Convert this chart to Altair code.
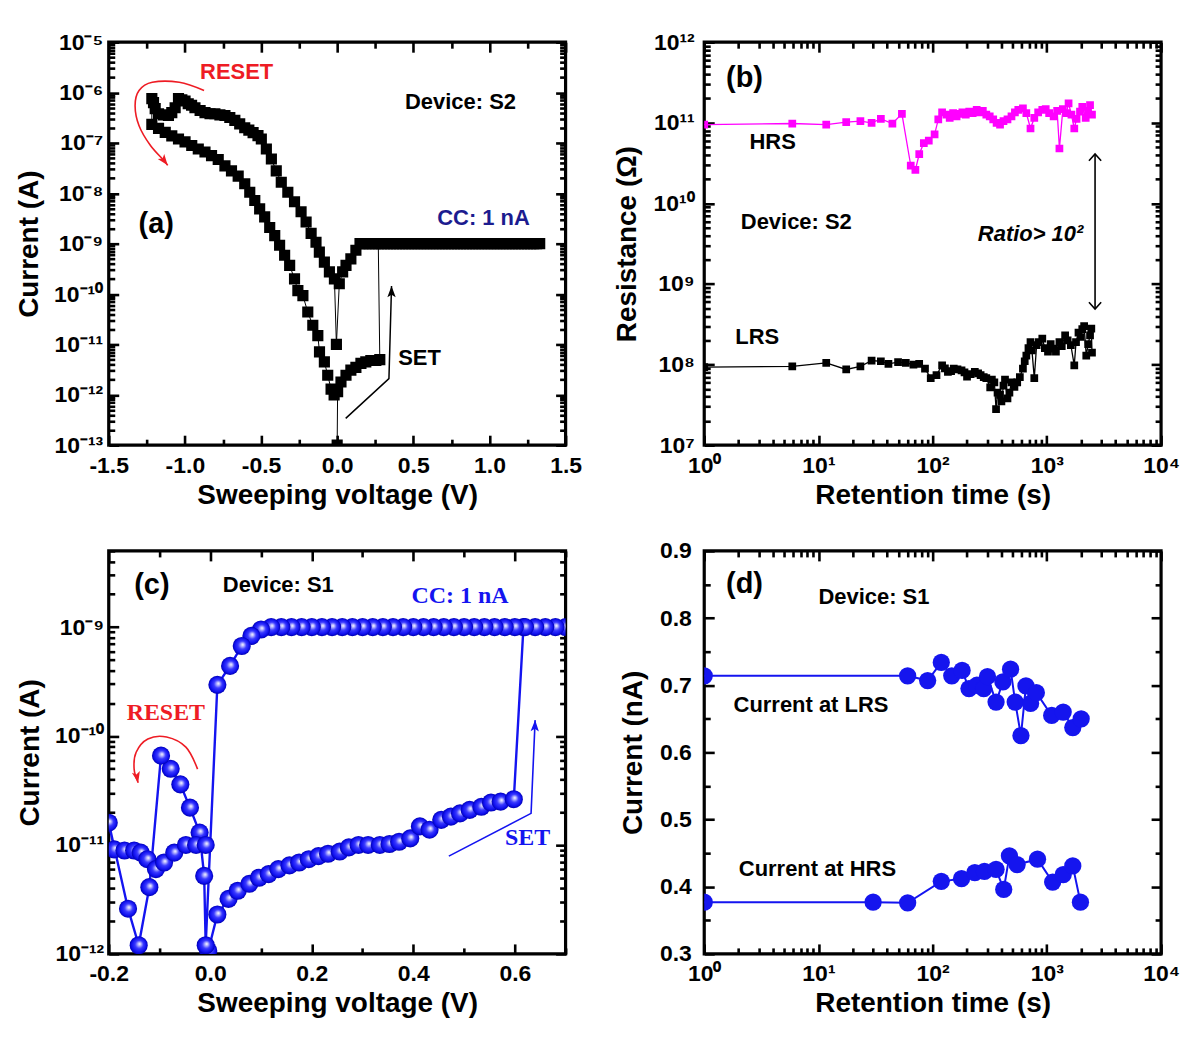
import altair as alt
import pandas as pd

SANS = "Liberation Sans"
SERIF = "Liberation Serif"
SUP = str.maketrans("-0123456789", "\u207b\u2070\u00b9\u00b2\u00b3\u2074\u2075\u2076\u2077\u2078\u2079")

BLUE = "#1414f0"
RED = "#ee1c24"
MAGENTA = "#ff00ff"
NAVY = "#1c1c8f"

# ---------------- panel (a): I-V sweep, device S2 ----------------
A_HRS_POS_V = [0.0, 0.003, 0.025, 0.058, 0.09, 0.123, 0.156, 0.188, 0.221, 0.254, 0.28]
A_HRS_POS_I = [1.0e-13, 1.15e-12, 1.8e-12, 2.45e-12, 3.1e-12, 3.5e-12, 4.2e-12, 4.5e-12, 4.8e-12, 4.8e-12, 5.0e-12]
A_CC_V = [0.27, 0.29, 0.31, 0.33, 0.35, 0.37, 0.39, 0.41, 0.43, 0.45, 0.47, 0.49, 0.51, 0.53, 0.55,
          0.57, 0.59, 0.61, 0.63, 0.65, 0.67, 0.69, 0.71, 0.73, 0.75, 0.77, 0.79, 0.81, 0.83, 0.85,
          0.87, 0.89, 0.91, 0.93, 0.95, 0.97, 0.99, 1.01, 1.03, 1.05, 1.07, 1.09, 1.11, 1.13, 1.15,
          1.17, 1.19, 1.21, 1.23, 1.25, 1.27, 1.29, 1.31, 1.33]
A_CC_I = [1.0e-9] * len(A_CC_V)
A_LRS_RET_V = [0.25, 0.23, 0.21, 0.19, 0.17, 0.15, 0.123, 0.09, 0.058, 0.036, 0.014, -0.005]
A_LRS_RET_I = [1e-9, 1e-9, 1e-9, 1e-9, 1e-9, 1e-9, 7.4e-10, 5.0e-10, 3.7e-10, 2.75e-10, 1.6e-10, 1.0e-11]
A_LRS_NEG_V = [-0.018, -0.051, -0.084, -0.117, -0.139, -0.171, -0.204, -0.237, -0.28, -0.324,
               -0.367, -0.40, -0.432, -0.465, -0.498, -0.52, -0.552, -0.58, -0.607, -0.64,
               -0.672, -0.705, -0.737, -0.77, -0.803, -0.835, -0.868, -0.90, -0.934, -0.956,
               -0.978, -0.999, -1.02, -1.042, -1.064, -1.086, -1.108, -1.14, -1.173, -1.195,
               -1.206, -1.217]
A_LRS_NEG_I = [2.0e-10, 2.75e-10, 4.3e-10, 6.8e-10, 1.07e-9, 1.6e-9, 2.7e-9, 4.3e-9, 6.8e-9, 1.05e-8,
               1.66e-8, 2.8e-8, 4.8e-8, 7.6e-8, 1.2e-7, 1.4e-7, 1.6e-7, 1.8e-7, 2.0e-7, 2.4e-7,
               2.8e-7, 3.2e-7, 3.5e-7, 3.6e-7, 3.8e-7, 3.8e-7, 4.0e-7, 4.4e-7, 5.0e-7, 5.6e-7,
               6.0e-7, 6.8e-7, 7.2e-7, 7.6e-7, 5.0e-7, 4.0e-7, 3.5e-7, 3.6e-7, 3.8e-7, 4.8e-7,
               6.3e-7, 7.6e-7]
A_HRS_NEG_V = [-1.217, -1.173, -1.129, -1.086, -1.042, -0.999, -0.955, -0.912, -0.868, -0.825,
               -0.781, -0.737, -0.694, -0.65, -0.607, -0.574, -0.541, -0.509, -0.476, -0.443,
               -0.41, -0.378, -0.345, -0.312, -0.28, -0.258, -0.225, -0.193, -0.16, -0.127,
               -0.116, -0.084, -0.062, -0.04, -0.02]
A_HRS_NEG_I = [2.34e-7, 1.95e-7, 1.62e-7, 1.38e-7, 1.20e-7, 1.05e-7, 8.9e-8, 7.6e-8, 6.6e-8, 5.6e-8,
               4.7e-8, 3.5e-8, 2.8e-8, 2.2e-8, 1.55e-8, 1.05e-8, 7.2e-9, 4.9e-9, 3.4e-9, 2.1e-9,
               1.45e-9, 9.3e-10, 5.9e-10, 3.7e-10, 2.0e-10, 1.17e-10, 9.3e-11, 4.4e-11, 2.4e-11, 1.5e-11,
               7.1e-12, 4.5e-12, 2.45e-12, 1.3e-12, 1.0e-12]
A_RESET_ARC_V = [-0.874, -1.037, -1.214, -1.301, -1.327, -1.301, -1.226, -1.138, -1.113]
A_RESET_ARC_I = [1.1e-6, 1.6e-6, 1.6e-6, 1.1e-6, 5.5e-7, 2.2e-7, 8.9e-8, 4.5e-8, 3.6e-8]
A_SET_ARROW_V = [0.056, 0.34, 0.357]
A_SET_ARROW_I = [3.4e-13, 2.1e-12, 1.45e-10]

# ---------------- panel (b): retention, device S2 ----------------
B_HRS_T = [1.0, 5.9, 11.7, 17.5, 23.3, 29.2, 35.2, 44.4, 53.8, 64.3, 70.6, 76.3, 83.7, 92.5, 104, 112, 121,
           132, 141, 151, 162, 172, 182, 195, 209, 224, 243, 257, 275, 295, 316, 339, 363, 389, 417, 452, 490,
           525, 562, 617, 661, 719, 776, 839, 912, 977, 1047, 1146, 1230, 1288, 1380, 1479, 1549, 1641, 1738,
           1820, 1950, 2042, 2188, 2291, 2388, 2483]
B_HRS_R = [9.5e10, 9.8e10, 9.5e10, 1.02e11, 1.05e11, 1.0e11, 1.12e11, 9.8e10, 1.29e11, 2.95e10, 2.6e10,
           4.1e10, 5.6e10, 6.0e10, 7.2e10, 1.1e11, 1.35e11,
           1.26e11, 1.15e11, 1.32e11, 1.20e11, 1.29e11, 1.35e11, 1.26e11, 1.38e11, 1.32e11, 1.45e11,
           1.35e11, 1.41e11, 1.26e11, 1.20e11, 1.10e11, 1.00e11, 9.5e10, 1.05e11, 1.10e11, 1.20e11,
           1.35e11, 1.45e11, 1.51e11, 1.32e11, 8.5e10, 1.15e11, 1.35e11, 1.45e11, 1.48e11, 1.32e11,
           1.20e11, 1.41e11, 4.8e10, 1.48e11, 1.32e11, 1.74e11, 1.26e11, 8.5e10, 1.12e11, 1.38e11,
           1.58e11, 1.15e11, 1.41e11, 1.66e11, 1.26e11]
B_LRS_T = [1.0, 5.9, 11.7, 17.5, 23.3, 29.2, 35.2, 41, 49.8, 58.2, 67.9, 76.2, 85.7, 96.2, 108, 121, 128,
           136, 145, 153, 165, 179, 190, 200, 215, 234, 250, 263, 280, 295, 319, 330, 347, 359, 370, 389,
           400, 417, 430, 452, 470, 490, 520, 550, 580, 617, 640, 661, 690, 719, 740, 776, 813, 850, 912,
           960, 1023, 1080, 1148, 1200, 1288, 1350, 1445, 1520, 1622, 1738, 1800, 1892, 1980, 2042, 2120,
           2213, 2300, 2388, 2450, 2483]
B_LRS_R = [9.3e7, 9.5e7, 1.05e8, 8.7e7, 9.5e7, 1.12e8, 1.10e8, 1.02e8, 1.07e8, 1.05e8, 1.0e8, 1.02e8,
           8.9e7, 6.8e7, 7.4e7, 9.8e7, 9.0e7, 8.1e7, 8.3e7, 8.9e7, 8.7e7, 8.5e7, 8.0e7, 7.1e7, 7.6e7,
           8.1e7, 7.8e7, 7.4e7, 7.0e7, 6.8e7, 5.2e7, 6.5e7, 6.0e7, 2.8e7, 4.5e7, 4.2e7, 3.5e7, 5.5e7,
           6.5e7, 3.8e7, 4.5e7, 6.0e7, 5.3e7, 6.0e7, 7.0e7, 8.9e7, 1.1e8, 1.29e8, 1.6e8, 1.9e8, 1.5e8,
           6.8e7, 1.74e8, 1.9e8, 2.1e8, 1.6e8, 1.45e8, 1.8e8, 1.58e8, 1.45e8, 1.9e8, 1.7e8, 2.3e8,
           2.0e8, 1.74e8, 9.8e7, 1.9e8, 2.5e8, 2.2e8, 2.75e8, 3.0e8, 1.29e8, 1.8e8, 2.3e8, 2.8e8, 1.41e8]
B_RATIO_T = [2642, 2642]
B_RATIO_R = [4.1e10, 4.9e8]

# ---------------- panel (c): I-V sweep, device S1 ----------------
C_HRS_POS_V = [-0.004, 0.014, 0.036, 0.054, 0.077, 0.096, 0.115, 0.134, 0.156, 0.175, 0.194, 0.213,
               0.232, 0.255, 0.273, 0.292, 0.311, 0.334, 0.353, 0.372, 0.394, 0.413, 0.432, 0.455,
               0.474, 0.492, 0.511, 0.534, 0.553, 0.572, 0.598]
C_HRS_POS_I = [1.07e-12, 2.3e-12, 3.2e-12, 3.8e-12, 4.4e-12, 5.0e-12, 5.4e-12, 6.0e-12, 6.5e-12, 6.9e-12,
               7.4e-12, 7.9e-12, 8.3e-12, 8.7e-12, 9.5e-12, 1.0e-11, 1.0e-11, 1.0e-11, 1.02e-11, 1.07e-11,
               1.15e-11, 1.48e-11, 1.38e-11, 1.7e-11, 1.82e-11, 1.95e-11, 2.1e-11, 2.24e-11, 2.45e-11,
               2.5e-11, 2.63e-11]
C_CC_V = [0.617, 0.70, 0.68, 0.66, 0.64, 0.62, 0.60, 0.58, 0.56, 0.54, 0.52, 0.50, 0.48, 0.46, 0.44,
          0.42, 0.40, 0.38, 0.36, 0.34, 0.32, 0.30, 0.28, 0.26, 0.24, 0.22, 0.20, 0.18, 0.16, 0.14, 0.12]
C_CC_I = [1.0e-9] * len(C_CC_V)
C_LRS_RET_V = [0.1, 0.081, 0.062, 0.039, 0.014]
C_LRS_RET_I = [9.5e-10, 8.3e-10, 6.7e-10, 4.4e-10, 2.95e-10]
C_NEG_V = [-0.009, -0.012, -0.021, -0.04, -0.059, -0.078, -0.097, -0.12, -0.141, -0.162, -0.2,
           -0.189, -0.169, -0.15, -0.137, -0.124, -0.107, -0.091, -0.071, -0.048, -0.028, -0.009]
C_NEG_I = [1.2e-12, 5.2e-12, 1.3e-11, 2.2e-11, 3.6e-11, 5.0e-11, 6.6e-11, 4.1e-12, 1.2e-12, 2.6e-12,
           1.6e-11, 9.1e-12, 8.9e-12, 8.9e-12, 8.5e-12, 7.4e-12, 6.0e-12, 6.9e-12, 8.5e-12, 1.0e-11,
           1.0e-11, 1.0e-11]
C_RESET_ARC_V = [-0.025, -0.048, -0.086, -0.123, -0.146, -0.150, -0.142]
C_RESET_ARC_I = [4.97e-11, 7.9e-11, 9.8e-11, 9.4e-11, 7.1e-11, 4.97e-11, 3.72e-11]
C_SET_ARROW_V = [0.47, 0.632, 0.64]
C_SET_ARROW_I = [7.9e-12, 1.95e-11, 1.4e-10]

# ---------------- panel (d): retention, device S1 ----------------
D_LRS_T = [1, 60.4, 90.4, 119, 147, 181, 208, 244, 280, 302, 359, 412, 481, 528, 593, 656, 720, 809,
           1102, 1390, 1686, 1997]
D_LRS_I = [0.714, 0.714, 0.707, 0.734, 0.714, 0.722, 0.695, 0.700, 0.695, 0.713, 0.675, 0.705, 0.724,
           0.675, 0.625, 0.699, 0.673, 0.689, 0.655, 0.660, 0.637, 0.650]
D_HRS_T = [1, 30.1, 60.4, 119, 179, 234, 284, 359, 419, 470, 549, 828, 1124, 1390, 1686, 1968]
D_HRS_I = [0.377, 0.377, 0.376, 0.408, 0.412, 0.421, 0.423, 0.426, 0.396, 0.446, 0.433, 0.441, 0.407,
           0.418, 0.431, 0.377]

# ---------------- axis tick definitions ----------------
A_X_MAJ = [-1.5, -1.0, -0.5, 0.0, 0.5, 1.0, 1.5]
A_X_MIN = [-1.25, -0.75, -0.25, 0.25, 0.75, 1.25]
A_Y_EXP = [-13, -12, -11, -10, -9, -8, -7, -6, -5]
B_X_EXP = [0, 1, 2, 3, 4]
B_Y_EXP = [7, 8, 9, 10, 11, 12]
C_X_MAJ = [-0.2, 0.0, 0.2, 0.4, 0.6]
C_X_MIN = [-0.1, 0.1, 0.3, 0.5, 0.7]
C_Y_EXP = [-12, -11, -10, -9]
D_Y_MAJ = [0.3, 0.4, 0.5, 0.6, 0.7, 0.8, 0.9]
D_Y_MIN = [0.35, 0.45, 0.55, 0.65, 0.75, 0.85]

PW, PH = 458, 404


def decades(exps):
    return [10.0 ** e for e in exps]


def log_minor(exps, hi):
    out = []
    for e in exps:
        for k in range(2, 10):
            v = k * 10.0 ** e
            if v <= hi * 1.0001:
                out.append(v)
    return out


def pow10_expr(exps):
    expr = "''"
    for e in exps:
        expr = f"round(log(datum.value)/LN10) == {e} ? '10{str(e).translate(SUP)}' : ({expr})"
    return expr


DEC_EXPR = "replace(format(datum.value, '.1f'), '\u2212', '-')"


def mk_axis(orient, vals, size, labels=False, title=None, expr=None, pad=6, tpad=6):
    kw = dict(orient=orient, values=vals, tickSize=size, offset=-size, labels=labels,
              domain=False, grid=False, tickColor="black", tickWidth=2.6, title=title)
    if labels:
        kw.update(labelExpr=expr, labelPadding=pad, labelFlush=False, labelOverlap=False)
    if title is not None:
        kw.update(titlePadding=tpad)
    return alt.Axis(**kw)


def frame_layers(xdom, ydom, xs, ys, xmaj, xmin, ymaj, ymin, xtitle, ytitle, xexpr, yexpr,
                 xpad, ypad, ytpad):
    df = pd.DataFrame({"x": xdom, "y": ydom})

    def carrier(xa, ya):
        return alt.Chart(df).mark_point(opacity=0).encode(
            x=alt.X("x:Q", scale=xs, axis=xa), y=alt.Y("y:Q", scale=ys, axis=ya))

    return [
        carrier(mk_axis("bottom", xmaj, 10, True, xtitle, xexpr, xpad, 4),
                mk_axis("left", ymaj, 10, True, ytitle, yexpr, ypad, ytpad)),
        carrier(mk_axis("bottom", xmin, 6), mk_axis("left", ymin, 6)),
        carrier(mk_axis("top", xmaj, 10), mk_axis("right", ymaj, 10)),
        carrier(mk_axis("top", xmin, 6), mk_axis("right", ymin, 6)),
    ]


def enc(xs, ys):
    return dict(x=alt.X("x:Q", scale=xs, axis=None), y=alt.Y("y:Q", scale=ys, axis=None))


def text(xs, ys, x, y, t, size=22, color="black", font=SANS, style="normal"):
    df = pd.DataFrame({"x": [x], "y": [y], "t": [t]})
    return alt.Chart(df).mark_text(font=font, fontSize=size, fontWeight="bold", fontStyle=style,
                                   color=color, align="center", baseline="middle").encode(
        text="t:N", **enc(xs, ys))


def path_df(xv, yv):
    return pd.DataFrame({"x": xv, "y": yv, "i": list(range(len(xv)))})


ARROW = "M0,0L-0.55,1.5L0,1.15L0.55,1.5Z"
CHEV_UP = "M-1,1.1L0,0L1,1.1"
CHEV_DN = "M-1,-1.1L0,0L1,-1.1"


def arrow_head(xs, ys, x, y, color, angle, size=256):
    df = pd.DataFrame({"x": [x], "y": [y]})
    return alt.Chart(df).mark_point(shape=ARROW, filled=True, size=size, color=color, opacity=1,
                                    angle=angle, strokeWidth=0.5).encode(**enc(xs, ys))


def chevron(xs, ys, x, y, shape):
    df = pd.DataFrame({"x": [x], "y": [y]})
    return alt.Chart(df).mark_point(shape=shape, filled=False, size=150, color="black", opacity=1,
                                    strokeWidth=1.6).encode(**enc(xs, ys))


# ================= panel (a) =================
xa = alt.Scale(type="linear", domain=[-1.5, 1.5], nice=False, zero=False)
ya = alt.Scale(type="log", domain=[1e-13, 1e-5], nice=False)
a_v = A_HRS_POS_V + A_CC_V + A_LRS_RET_V + A_LRS_NEG_V + A_HRS_NEG_V
a_i = A_HRS_POS_I + A_CC_I + A_LRS_RET_I + A_LRS_NEG_I + A_HRS_NEG_I
df_a = path_df(a_v, a_i)
pa_layers = frame_layers([-1.5, 1.5], [1e-13, 1e-5], xa, ya, A_X_MAJ, A_X_MIN,
                         decades(A_Y_EXP), log_minor(A_Y_EXP[:-1], 1e-5),
                         "Sweeping voltage (V)", "Current (A)", DEC_EXPR, pow10_expr(A_Y_EXP), 9, 6, 10)
pa_layers += [
    alt.Chart(df_a).mark_line(color="black", strokeWidth=1, clip=True).encode(order="i:Q", **enc(xa, ya)),
    alt.Chart(df_a).mark_square(color="black", size=125, opacity=1, clip=True).encode(**enc(xa, ya)),
    alt.Chart(path_df(A_RESET_ARC_V, A_RESET_ARC_I)).mark_line(color=RED, strokeWidth=1.6,
                                                              interpolate="cardinal").encode(order="i:Q", **enc(xa, ya)),
    arrow_head(xa, ya, A_RESET_ARC_V[-1], A_RESET_ARC_I[-1], RED, 143, 220),
    alt.Chart(path_df(A_SET_ARROW_V, A_SET_ARROW_I)).mark_line(color="black", strokeWidth=1.5).encode(
        order="i:Q", **enc(xa, ya)),
    arrow_head(xa, ya, A_SET_ARROW_V[-1], A_SET_ARROW_I[-1], "black", 0, 230),
    text(xa, ya, -0.66, 2.55e-6, "RESET", 22, RED),
    text(xa, ya, 0.81, 6.5e-7, "Device: S2", 22),
    text(xa, ya, -1.188, 2.5e-9, "(a)", 29),
    text(xa, ya, 0.961, 3.2e-9, "CC: 1 nA", 22, NAVY),
    text(xa, ya, 0.541, 5.4e-12, "SET", 22),
]
pa = alt.layer(*pa_layers).resolve_axis(x="independent", y="independent").properties(width=PW, height=PH)

# ================= panel (b) =================
xb = alt.Scale(type="log", domain=[1, 1e4], nice=False)
yb = alt.Scale(type="log", domain=[1e7, 1e12], nice=False)
pb_layers = frame_layers([1, 1e4], [1e7, 1e12], xb, yb, decades(B_X_EXP), log_minor(B_X_EXP[:-1], 1e4),
                         decades(B_Y_EXP), log_minor(B_Y_EXP[:-1], 1e12),
                         "Retention time (s)", "Resistance (\u03a9)", pow10_expr(B_X_EXP), pow10_expr(B_Y_EXP),
                         9, 10, 12)
df_bh = path_df(B_HRS_T, B_HRS_R)
df_bl = path_df(B_LRS_T, B_LRS_R)
pb_layers += [
    alt.Chart(df_bh).mark_line(color=MAGENTA, strokeWidth=1.3, clip=True).encode(order="i:Q", **enc(xb, yb)),
    alt.Chart(df_bh).mark_square(color=MAGENTA, size=60, opacity=1, clip=True).encode(**enc(xb, yb)),
    alt.Chart(df_bl).mark_line(color="black", strokeWidth=1.3, clip=True).encode(order="i:Q", **enc(xb, yb)),
    alt.Chart(df_bl).mark_square(color="black", size=60, opacity=1, clip=True).encode(**enc(xb, yb)),
    alt.Chart(path_df(B_RATIO_T, B_RATIO_R)).mark_line(color="black", strokeWidth=1.6).encode(
        order="i:Q", **enc(xb, yb)),
    chevron(xb, yb, B_RATIO_T[0], B_RATIO_R[0], CHEV_UP),
    chevron(xb, yb, B_RATIO_T[1], B_RATIO_R[1], CHEV_DN),
    text(xb, yb, 2.25, 3.6e11, "(b)", 29),
    text(xb, yb, 3.97, 5.7e10, "HRS", 22),
    text(xb, yb, 6.4, 5.8e9, "Device: S2", 22),
    text(xb, yb, 720, 4.2e9, "Ratio> 10\u00b2", 22, style="italic"),
    text(xb, yb, 2.91, 2.2e8, "LRS", 22),
]
pb = alt.layer(*pb_layers).resolve_axis(x="independent", y="independent").properties(width=PW, height=PH)

# ================= panel (c) =================
xc = alt.Scale(type="linear", domain=[-0.2, 0.7], nice=False, zero=False)
yc = alt.Scale(type="log", domain=[1e-12, 5e-9], nice=False)
c_v = C_HRS_POS_V + C_CC_V + C_LRS_RET_V + C_NEG_V
c_i = C_HRS_POS_I + C_CC_I + C_LRS_RET_I + C_NEG_I
df_c = path_df(c_v, c_i)
SPHERE = alt.RadialGradient(
    gradient="radial",
    stops=[alt.GradientStop(color="#ffffff", offset=0.0),
           alt.GradientStop(color="#b4b4ff", offset=0.18),
           alt.GradientStop(color="#3a3aff", offset=0.45),
           alt.GradientStop(color="#1010f0", offset=0.8),
           alt.GradientStop(color="#0000b0", offset=1.0)],
    x1=0.56, y1=0.42, r1=0.0, x2=0.5, y2=0.5, r2=0.5)
pc_layers = frame_layers([-0.2, 0.7], [1e-12, 5e-9], xc, yc, C_X_MAJ, C_X_MIN,
                         decades(C_Y_EXP), log_minor(C_Y_EXP, 5e-9),
                         "Sweeping voltage (V)", "Current (A)", DEC_EXPR, pow10_expr(C_Y_EXP), 9, 5, 10)
pc_layers += [
    alt.Chart(df_c).mark_line(color=BLUE, strokeWidth=2.4, clip=True).encode(order="i:Q", **enc(xc, yc)),
    alt.Chart(df_c).mark_circle(fill=SPHERE, size=330, opacity=1, clip=True).encode(**enc(xc, yc)),
    alt.Chart(path_df(C_RESET_ARC_V, C_RESET_ARC_I)).mark_line(color=RED, strokeWidth=1.6,
                                                              interpolate="cardinal").encode(order="i:Q", **enc(xc, yc)),
    arrow_head(xc, yc, C_RESET_ARC_V[-1], C_RESET_ARC_I[-1], RED, 168, 220),
    alt.Chart(path_df(C_SET_ARROW_V, C_SET_ARROW_I)).mark_line(color=BLUE, strokeWidth=1.6).encode(
        order="i:Q", **enc(xc, yc)),
    arrow_head(xc, yc, C_SET_ARROW_V[-1], C_SET_ARROW_I[-1], BLUE, 2, 230),
    text(xc, yc, -0.115, 2.44e-9, "(c)", 29),
    text(xc, yc, 0.134, 2.44e-9, "Device: S1", 22),
    text(xc, yc, 0.492, 1.93e-9, "CC: 1 nA", 24, BLUE, SERIF),
    text(xc, yc, -0.0875, 1.61e-10, "RESET", 24, RED, SERIF),
    text(xc, yc, 0.625, 1.15e-11, "SET", 24, BLUE, SERIF),
]
pc = alt.layer(*pc_layers).resolve_axis(x="independent", y="independent").properties(width=PW, height=PH)

# ================= panel (d) =================
xd = alt.Scale(type="log", domain=[1, 1e4], nice=False)
yd = alt.Scale(type="linear", domain=[0.3, 0.9], nice=False, zero=False)
df_dl = path_df(D_LRS_T, D_LRS_I)
df_dh = path_df(D_HRS_T, D_HRS_I)
pd_layers = frame_layers([1, 1e4], [0.3, 0.9], xd, yd, decades(B_X_EXP), log_minor(B_X_EXP[:-1], 1e4),
                         D_Y_MAJ, D_Y_MIN, "Retention time (s)", "Current (nA)",
                         pow10_expr(B_X_EXP), DEC_EXPR, 9, 13, 12)
pd_layers += [
    alt.Chart(df_dl).mark_line(color=BLUE, strokeWidth=2, clip=True).encode(order="i:Q", **enc(xd, yd)),
    alt.Chart(df_dl).mark_circle(color="#1515ee", size=300, opacity=1, clip=True).encode(**enc(xd, yd)),
    alt.Chart(df_dh).mark_line(color=BLUE, strokeWidth=2, clip=True).encode(order="i:Q", **enc(xd, yd)),
    alt.Chart(df_dh).mark_circle(color="#1515ee", size=300, opacity=1, clip=True).encode(**enc(xd, yd)),
    text(xd, yd, 2.25, 0.851, "(d)", 29),
    text(xd, yd, 30.6, 0.831, "Device: S1", 22),
    text(xd, yd, 8.6, 0.671, "Current at LRS", 22),
    text(xd, yd, 9.8, 0.427, "Current at HRS", 22),
]
pdd = alt.layer(*pd_layers).resolve_axis(x="independent", y="independent").properties(width=PW, height=PH)

chart = alt.concat(pa, pb, pc, pdd, columns=2, spacing={"row": 106, "column": 139},
                   bounds="flush").properties(
    padding={"left": 6, "top": 20, "right": 10, "bottom": 10}
).configure_view(stroke="black", strokeWidth=3.2).configure_axis(
    labelFont=SANS, labelFontSize=23, labelFontWeight="bold", labelColor="black",
    titleFont=SANS, titleFontSize=28, titleFontWeight="bold", titleColor="black"
)

chart.save("out.html", embed_options={"renderer": "svg", "actions": False})
